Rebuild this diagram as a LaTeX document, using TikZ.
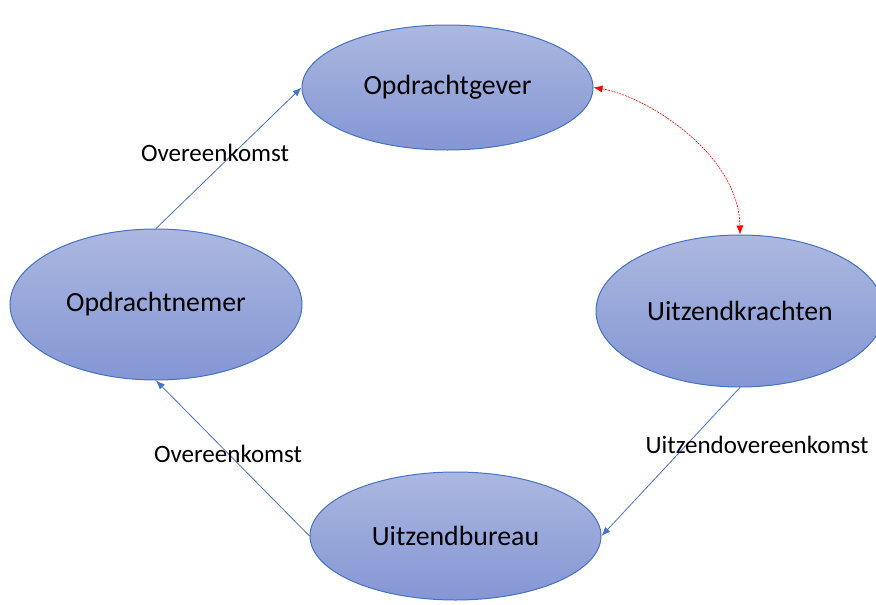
\documentclass[tikz,border=0pt]{standalone}
\usepackage{fontspec}
\setmainfont{Carlito}
\usetikzlibrary{shapes.geometric,arrows.meta}

\definecolor{partyedge}{RGB}{68,114,196}
\definecolor{partytop}{RGB}{172,184,224}
\definecolor{partybottom}{RGB}{132,150,212}

\begin{document}
\begin{tikzpicture}[x=1pt,y=-1pt]
	\tikzset{party/.style={ellipse,draw=partyedge,line width=1pt,top color=partytop,bottom color=partybottom,inner sep=0pt,font=\fontsize{27.8}{33}\selectfont}}
	\tikzset{contract/.style={draw=partyedge,line width=0.8pt,-{Latex[length=9pt,width=7pt]}}}
	\tikzset{contractlabel/.style={font=\fontsize{25}{30}\selectfont,inner sep=0pt}}
	\useasboundingbox (0,0) rectangle (876,605);
	% parties
	\node[party,minimum width=291pt,minimum height=125pt] (gever) at (447.5,87.5) {Opdrachtgever};
	\node[party,minimum width=292pt,minimum height=151pt] (nemer) at (156,304.5) {Opdrachtnemer};
	\node[party,minimum width=288pt,minimum height=152pt] (krachten) at (740,311) {Uitzendkrachten};
	\node[party,minimum width=291pt,minimum height=128pt] (bureau) at (455.5,536) {Uitzendbureau};
	% contracts
	\draw[contract] (nemer.north) -- (gever.west);
	\draw[contract] (bureau.west) -- (nemer.south);
	\draw[contract] (krachten.south) -- (bureau.east);
	\draw[red,dash pattern=on 2pt off 1pt,line width=0.6pt,{Latex[length=9pt,width=7pt]}-{Latex[length=9pt,width=7pt]}] (gever.east) .. controls (646,96) and (739,154) .. (krachten.north);
	% labels
	\node[contractlabel] (lblgever) at (215,153) {Overeenkomst};
	\node[contractlabel] (lblnemer) at (228,454) {Overeenkomst};
	\node[contractlabel] (lblbureau) at (757,445) {Uitzendovereenkomst};
\end{tikzpicture}
\end{document}
